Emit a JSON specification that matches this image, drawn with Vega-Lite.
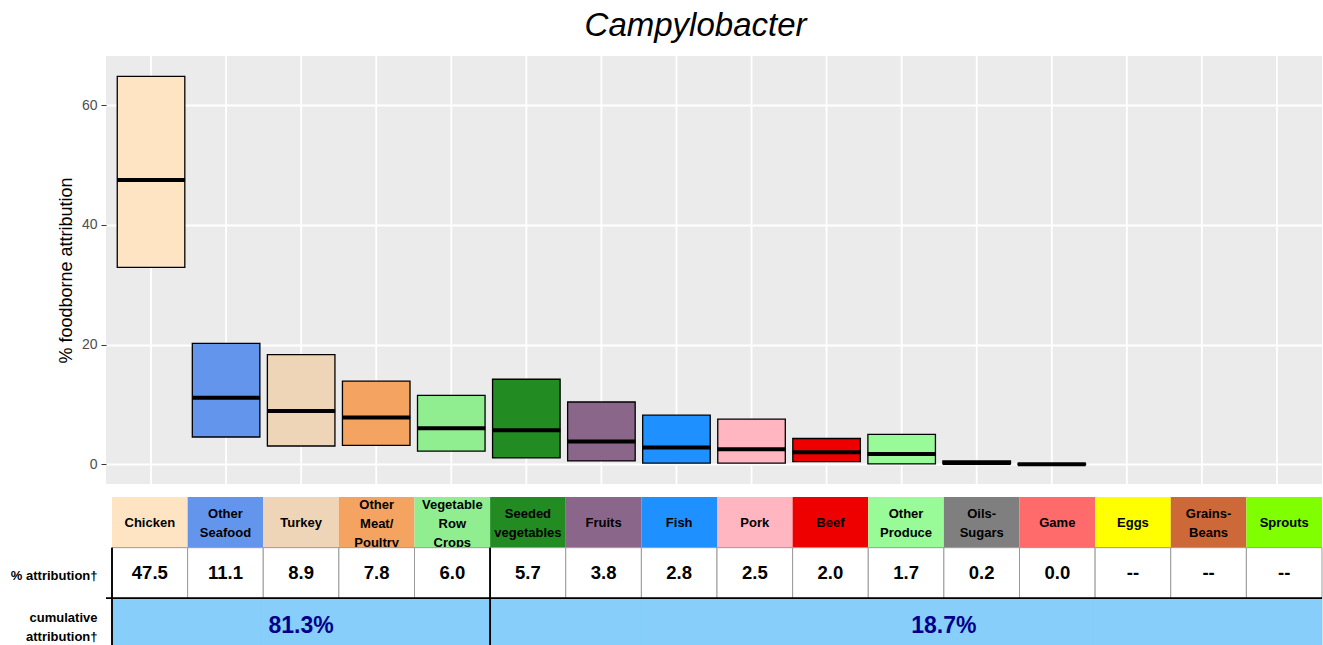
{
  "$schema": "https://vega.github.io/schema/vega-lite/v6.json",
  "padding": {"left": 10, "top": 10, "right": 0, "bottom": 0},
  "title": {"text": "Campylobacter", "fontSize": 33, "fontStyle": "italic", "fontWeight": "normal", "anchor": "middle", "color": "black", "offset": 12, "dx": 29},
  "config": {"font": "Liberation Sans", "view": {"stroke": null}},
  "datasets": {
    "foods": [
      {"food": "Chicken", "label": "Chicken", "lower": 32.9, "median": 47.5, "upper": 64.8, "pct": "47.5"},
      {"food": "Other Seafood", "label": "Other\nSeafood", "lower": 4.55, "median": 11.1, "upper": 20.2, "pct": "11.1"},
      {"food": "Turkey", "label": "Turkey", "lower": 3.05, "median": 8.9, "upper": 18.3, "pct": "8.9"},
      {"food": "Other Meat/Poultry", "label": "Other\nMeat/\nPoultry", "lower": 3.15, "median": 7.8, "upper": 13.9, "pct": "7.8"},
      {"food": "Vegetable Row Crops", "label": "Vegetable\nRow\nCrops", "lower": 2.2, "median": 6.0, "upper": 11.5, "pct": "6.0"},
      {"food": "Seeded vegetables", "label": "Seeded\nvegetables", "lower": 1.05, "median": 5.7, "upper": 14.2, "pct": "5.7"},
      {"food": "Fruits", "label": "Fruits", "lower": 0.55, "median": 3.8, "upper": 10.4, "pct": "3.8"},
      {"food": "Fish", "label": "Fish", "lower": 0.2, "median": 2.8, "upper": 8.2, "pct": "2.8"},
      {"food": "Pork", "label": "Pork", "lower": 0.2, "median": 2.5, "upper": 7.55, "pct": "2.5"},
      {"food": "Beef", "label": "Beef", "lower": 0.45, "median": 2.0, "upper": 4.3, "pct": "2.0"},
      {"food": "Other Produce", "label": "Other\nProduce", "lower": 0.05, "median": 1.7, "upper": 5.0, "pct": "1.7"},
      {"food": "Oils-Sugars", "label": "Oils-\nSugars", "lower": 0.1, "median": 0.2, "upper": 0.55, "pct": "0.2"},
      {"food": "Game", "label": "Game", "lower": 0.0, "median": 0.0, "upper": 0.05, "pct": "0.0"},
      {"food": "Eggs", "label": "Eggs", "lower": null, "median": null, "upper": null, "pct": "--"},
      {"food": "Grains-Beans", "label": "Grains-\nBeans", "lower": null, "median": null, "upper": null, "pct": "--"},
      {"food": "Sprouts", "label": "Sprouts", "lower": null, "median": null, "upper": null, "pct": "--"}
    ],
    "cum": [
      {"share": "81.3%", "part": "first"},
      {"share": "18.7%", "part": "rest"}
    ]
  },
  "spacing": 12,
  "resolve": {"scale": {"x": "independent", "y": "independent", "fill": "shared"}},
  "vconcat": [
    {
      "width": 1216,
      "height": 428,
      "view": {"fill": "#EBEBEB", "stroke": null},
      "data": {"name": "foods"},
      "layer": [
        {
          "mark": {"type": "rule", "color": "white", "strokeWidth": 1.8},
          "encoding": {
            "x": {"field": "food", "type": "nominal", "sort": null,
              "scale": {"domain": ["Chicken", "Other Seafood", "Turkey", "Other Meat/Poultry", "Vegetable Row Crops", "Seeded vegetables", "Fruits", "Fish", "Pork", "Beef", "Other Produce", "Oils-Sugars", "Game", "Eggs", "Grains-Beans", "Sprouts"], "paddingInner": 0.1, "paddingOuter": 0.15},
              "axis": null}
          }
        },
        {
          "mark": {"type": "rect", "stroke": "black", "strokeWidth": 1.3, "opacity": 1},
          "encoding": {
            "x": {"field": "food", "type": "nominal", "sort": null},
            "y": {"field": "lower", "type": "quantitative",
              "scale": {"domain": [-3.3, 68.2], "nice": false, "zero": false},
              "title": "% foodborne attribution",
              "axis": {"values": [0, 20, 40, 60], "grid": true, "gridColor": "white", "gridWidth": 1.8, "domain": false, "tickColor": "#333333", "tickSize": 5, "labelColor": "#4D4D4D", "labelFontSize": 14, "labelPadding": 4, "titleFontSize": 18, "titleFontWeight": "normal", "titleColor": "black", "titlePadding": 6, "zindex": 0}},
            "y2": {"field": "upper"},
            "fill": {"field": "food", "type": "nominal",
              "scale": {"domain": ["Chicken", "Other Seafood", "Turkey", "Other Meat/Poultry", "Vegetable Row Crops", "Seeded vegetables", "Fruits", "Fish", "Pork", "Beef", "Other Produce", "Oils-Sugars", "Game", "Eggs", "Grains-Beans", "Sprouts"],
                "range": ["#FFE4C4", "#6495ED", "#EED5B7", "#F4A460", "#90EE90", "#228B22", "#8B668B", "#1E90FF", "#FFB6C1", "#EE0000", "#98FB98", "#7F7F7F", "#FF6A6A", "#FFFF00", "#CD6839", "#7FFF00"]},
              "legend": null}
          }
        },
        {
          "mark": {"type": "tick", "thickness": 4, "size": 68, "color": "black", "opacity": 1},
          "encoding": {
            "x": {"field": "food", "type": "nominal", "sort": null},
            "y": {"field": "median", "type": "quantitative"}
          }
        }
      ]
    },
    {
      "width": 1216,
      "height": 152,
      "layer": [
        {
          "data": {"name": "foods"},
          "mark": {"type": "rect", "opacity": 1},
          "encoding": {
            "x": {"field": "food", "type": "nominal", "sort": null,
              "scale": {"domain": ["Chicken", "Other Seafood", "Turkey", "Other Meat/Poultry", "Vegetable Row Crops", "Seeded vegetables", "Fruits", "Fish", "Pork", "Beef", "Other Produce", "Oils-Sugars", "Game", "Eggs", "Grains-Beans", "Sprouts"], "paddingInner": 0, "paddingOuter": 0, "range": [6, 1216]},
              "axis": null},
            "y": {"datum": "header", "type": "nominal",
              "scale": {"domain": ["header", "pct", "cum"], "paddingInner": 0, "paddingOuter": 0},
              "axis": {"title": null, "domain": false, "ticks": false, "labelFontSize": 13, "labelFontWeight": "bold", "labelColor": "black", "labelPadding": 9, "labelLineHeight": 19,
                "labelOffset": {"condition": {"test": "datum.value == 'cum'", "value": -6}, "value": 3},
                "labelExpr": "datum.value == 'pct' ? '% attribution†' : datum.value == 'cum' ? ['cumulative', 'attribution†'] : ''"}},
            "fill": {"field": "food", "type": "nominal", "legend": null}
          }
        },
        {
          "data": {"name": "foods"},
          "transform": [{"filter": "indexof(datum.label, '\\n') < 0"}],
          "mark": {"type": "text", "fontSize": 13, "fontWeight": "bold", "color": "black", "baseline": "middle", "dy": 1},
          "encoding": {
            "x": {"field": "food", "type": "nominal", "sort": null},
            "y": {"datum": "header", "type": "nominal"},
            "text": {"field": "label"}
          }
        },
        {
          "data": {"name": "foods"},
          "transform": [{"filter": "indexof(datum.label, '\\n') >= 0 && indexof(datum.label, '\\n') == lastindexof(datum.label, '\\n')"}],
          "mark": {"type": "text", "fontSize": 13, "fontWeight": "bold", "color": "black", "lineBreak": "\n", "lineHeight": 19, "baseline": "middle", "dy": -8.5},
          "encoding": {
            "x": {"field": "food", "type": "nominal", "sort": null},
            "y": {"datum": "header", "type": "nominal"},
            "text": {"field": "label"}
          }
        },
        {
          "data": {"name": "foods"},
          "transform": [{"filter": "indexof(datum.label, '\\n') >= 0 && indexof(datum.label, '\\n') != lastindexof(datum.label, '\\n')"}],
          "mark": {"type": "text", "fontSize": 13, "fontWeight": "bold", "color": "black", "lineBreak": "\n", "lineHeight": 19, "baseline": "middle", "dy": -17},
          "encoding": {
            "x": {"field": "food", "type": "nominal", "sort": null},
            "y": {"datum": "header", "type": "nominal"},
            "text": {"field": "label"}
          }
        },
        {
          "data": {"name": "foods"},
          "mark": {"type": "rect", "fill": "white", "stroke": "#9A9A9A", "strokeWidth": 1, "opacity": 1},
          "encoding": {
            "x": {"field": "food", "type": "nominal", "sort": null},
            "y": {"datum": "pct", "type": "nominal"}
          }
        },
        {
          "data": {"name": "foods"},
          "mark": {"type": "text", "fontSize": 18.5, "fontWeight": "bold", "color": "black", "baseline": "middle"},
          "encoding": {
            "x": {"field": "food", "type": "nominal", "sort": null},
            "y": {"datum": "pct", "type": "nominal"},
            "text": {"field": "pct"}
          }
        },
        {
          "data": {"name": "foods"},
          "mark": {"type": "rect", "fill": "#87CEFA", "stroke": "#87CEFA", "strokeWidth": 1, "opacity": 1},
          "encoding": {
            "x": {"field": "food", "type": "nominal", "sort": null},
            "y": {"datum": "cum", "type": "nominal"}
          }
        },
        {
          "data": {"name": "cum"},
          "mark": {"type": "rule", "color": "black", "strokeWidth": 1.5},
          "encoding": {
            "y": {"datum": "cum", "type": "nominal", "bandPosition": 0}
          }
        },
        {
          "data": {"name": "cum"},
          "mark": {"type": "rule", "color": "black", "strokeWidth": 1.5},
          "encoding": {
            "x": {"datum": "Seeded vegetables", "type": "nominal", "bandPosition": 0},
            "y": {"datum": "pct", "type": "nominal", "bandPosition": 0},
            "y2": {"datum": "cum", "bandPosition": 1}
          }
        },
        {
          "data": {"name": "cum"},
          "mark": {"type": "rule", "color": "black", "strokeWidth": 1.5},
          "encoding": {
            "x": {"datum": "Chicken", "type": "nominal", "bandPosition": 0},
            "y": {"datum": "pct", "type": "nominal", "bandPosition": 0},
            "y2": {"datum": "cum", "bandPosition": 1}
          }
        },
        {
          "data": {"name": "cum"},
          "transform": [{"filter": "datum.part == 'first'"}],
          "mark": {"type": "text", "fontSize": 23, "fontWeight": "bold", "color": "#00008B", "baseline": "middle", "dy": 2},
          "encoding": {
            "x": {"datum": "Turkey", "type": "nominal"},
            "y": {"datum": "cum", "type": "nominal"},
            "text": {"field": "share"}
          }
        },
        {
          "data": {"name": "cum"},
          "transform": [{"filter": "datum.part == 'rest'"}],
          "mark": {"type": "text", "fontSize": 23, "fontWeight": "bold", "color": "#00008B", "baseline": "middle", "dy": 2},
          "encoding": {
            "x": {"datum": "Oils-Sugars", "type": "nominal", "bandPosition": 0},
            "y": {"datum": "cum", "type": "nominal"},
            "text": {"field": "share"}
          }
        }
      ]
    }
  ]
}
